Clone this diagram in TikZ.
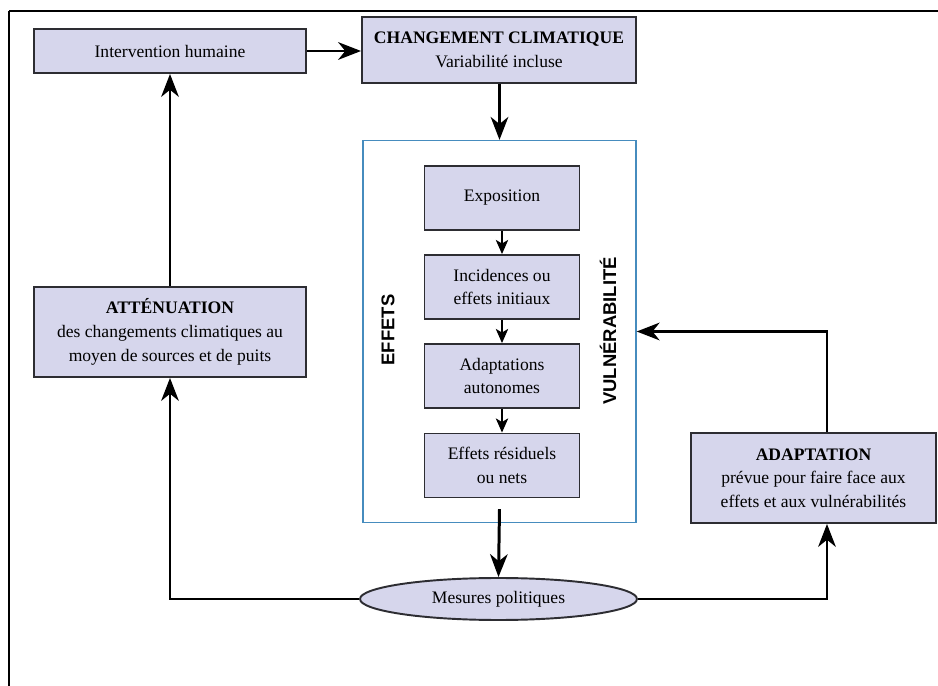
\documentclass[tikz,border=0pt]{standalone}
\usepackage{fontspec}
\setmainfont{Liberation Serif}
\newfontfamily\labelfont{Liberation Sans}
\usetikzlibrary{arrows.meta,shapes.geometric}
\definecolor{boxfill}{RGB}{214,214,236}
\definecolor{boxline}{RGB}{45,45,50}
\definecolor{frameblue}{RGB}{70,140,190}

\begin{document}
\begin{tikzpicture}[x=0.02cm, y=-0.02cm,
		box/.style={draw=boxline, fill=boxfill, line width=1.1pt, inner sep=0pt, align=center, font=\rmfamily\fontsize{10}{13.5}\selectfont},
		big/.style={line width=1.7pt, -{Stealth[length=13pt, width=10pt, inset=4pt]}},
		small/.style={line width=1.2pt, -{Stealth[length=8pt, width=7pt, inset=2pt]}},
		side/.style={rotate=90, font=\labelfont\bfseries\fontsize{10.5}{12}\selectfont}]
		%%%%% START %%%%%
		
		\useasboundingbox (0, 0) rectangle (938, 686);
		\draw[line width=1.2pt] (9, 11) -- (938, 11);
		\draw[line width=0.6pt] (9, 11) -- (9, 686);
		
		\node[box, minimum width=5.44cm, minimum height=0.88cm] (inter) at (170, 51) {Intervention humaine};
		\node[box, minimum width=5.48cm, minimum height=1.32cm] (clim) at (499, 50) {\textbf{CHANGEMENT CLIMATIQUE}\\Variabilité incluse};
		
		\node[draw=frameblue, line width=0.8pt, minimum width=5.46cm, minimum height=7.64cm, inner sep=0pt] (cont) at (499.5, 331.5) {};
		\node[box, minimum width=3.1cm, minimum height=1.28cm] (expo) at (502, 198) {Exposition};
		\node[box, minimum width=3.1cm, minimum height=1.28cm] (incid) at (502, 287) {Incidences ou\\effets initiaux};
		\node[box, minimum width=3.1cm, minimum height=1.28cm] (auto) at (502, 376) {Adaptations\\autonomes};
		\node[box, minimum width=3.1cm, minimum height=1.28cm] (resid) at (502, 465.5) {Effets résiduels\\ou nets};
		\node[side] (effets) at (388, 330) {EFFETS};
		\node[side] (vuln) at (608, 331) {VULNÉRABILITÉ};
		
		\node[box, minimum width=5.44cm, minimum height=1.8cm] (attn) at (170, 332) {\textbf{ATTÉNUATION}\\des changements climatiques au\\moyen de sources et de puits};
		\node[box, minimum width=4.9cm, minimum height=1.8cm] (adapt) at (813.5, 478) {\textbf{ADAPTATION}\\prévue pour faire face aux\\effets et aux vulnérabilités};
		\node[box, ellipse, minimum width=5.54cm, minimum height=0.84cm] (pol) at (498.5, 599) {Mesures politiques};
		
		\draw[big] (inter.east) -- (inter.east -| clim.west);
		\draw[big] (attn.north) -- (inter.south);
		\draw[big] (clim.south -| cont.north) -- (cont.north);
		
		\draw[small] (expo) -- (incid);
		\draw[small] (incid) -- (auto);
		\draw[small] (auto) -- (resid);
		
		\draw[big] ([yshift=0.28cm]cont.south) -- (pol.north);
		\draw[big] (pol.west) -| (attn.south);
		\draw[big] (pol.east) -| ([xshift=0.27cm]adapt.south);
		\draw[big] ([xshift=0.27cm]adapt.north) |- (cont.east);
		
		%%%%% END %%%%%
	\end{tikzpicture}
\end{document}
